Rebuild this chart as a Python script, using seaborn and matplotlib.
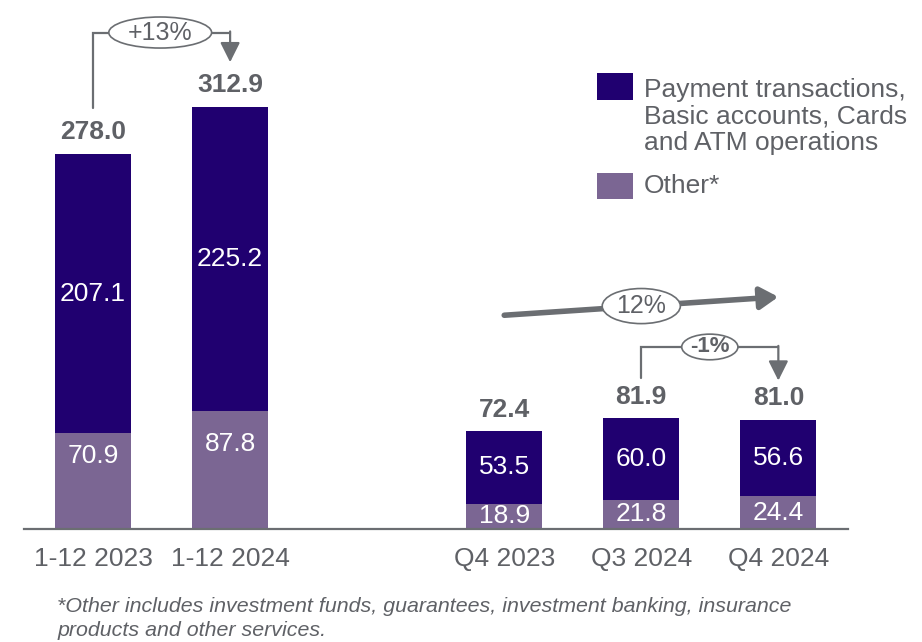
import numpy as np
import pandas as pd
import matplotlib
matplotlib.use('Agg')
import matplotlib.pyplot as plt
from matplotlib.patches import Ellipse, Rectangle
import seaborn as sns

# data
periods = ['1-12 2023', '1-12 2024', 'Q4 2023', 'Q3 2024', 'Q4 2024']
payments = [207.1, 225.2, 53.5, 60.0, 56.6]
other = [70.9, 87.8, 18.9, 21.8, 24.4]
totals = [278.0, 312.9, 72.4, 81.9, 81.0]
growth_year = '+13%'
growth_trend = '12%'
growth_qoq = '-1%'
legend_labels = ['Payment transactions,\nBasic accounts, Cards\nand ATM operations', 'Other*']
footnote = ('*Other includes investment funds, guarantees, investment banking, insurance\n'
            'products and other services.')

# colours / style
dark = '#200070'
light = '#7b6693'
gray = '#5f6166'
line_gray = '#6b6e72'

sns.set_theme(style='white')
plt.rcParams['font.family'] = ['Liberation Sans', 'DejaVu Sans']

df = pd.DataFrame({'period': periods, 'payments': payments, 'other': other, 'total': totals})
# blank slot between the yearly and the quarterly groups
order = periods[:2] + [' '] + periods[2:]
pos = {p: order.index(p) for p in periods}

fig = plt.figure(figsize=(9.22, 6.42), dpi=100)
ax = fig.add_axes([0.026, 0.176, 0.894, 0.824])

sns.barplot(data=df, x='period', y='total', order=order, color=dark, saturation=1,
            width=0.555, linewidth=0, ax=ax)
sns.barplot(data=df, x='period', y='other', order=order, color=light, saturation=1,
            width=0.555, linewidth=0, ax=ax)

ax.set_xlim(-0.504, 5.51)
ax.set_ylim(0, 392)
ax.set_xlabel('')
ax.set_ylabel('')
ax.set_yticks([])
for s in ['top', 'right', 'left']:
    ax.spines[s].set_visible(False)
ax.spines['bottom'].set_color(line_gray)
ax.spines['bottom'].set_linewidth(1.6)
ax.tick_params(axis='x', length=0, pad=13, labelsize=19, labelcolor=gray)

# value labels
other_frac = [0.76, 0.72, 0.5, 0.5, 0.5]
for i, row in df.iterrows():
    x = pos[row['period']]
    ax.text(x, row['other'] * other_frac[i], f"{row['other']:.1f}", ha='center', va='center',
            color='white', fontsize=19)
    ax.text(x, row['other'] + row['payments'] / 2, f"{row['payments']:.1f}", ha='center',
            va='center', color='white', fontsize=19)
    ax.annotate(f"{row['total']:.1f}", (x, row['total']), xytext=(0, 7),
                textcoords='offset points', ha='center', va='bottom', color=gray,
                fontsize=19, fontweight='bold')


def bracket(ax, x0, x1, y0, ytop, ytip, text, ex, ew, eh, fs, weight='normal'):
    ax.plot([x0, x0, x1], [y0, ytop, ytop], color=line_gray, lw=1.6, solid_joinstyle='miter')
    ax.annotate('', xy=(x1, ytip), xytext=(x1, ytop + 0.8),
                arrowprops=dict(arrowstyle='-|>,head_length=1.0,head_width=0.5',
                                color=line_gray, lw=1.6, shrinkA=0, shrinkB=0))
    ax.add_patch(Ellipse((ex, ytop), ew, eh, facecolor='white', edgecolor=line_gray,
                         lw=1.2, zorder=4))
    ax.text(ex, ytop, text, ha='center', va='center', color=gray, fontsize=fs,
            fontweight=weight, zorder=5)


# yearly growth bracket
bracket(ax, pos[periods[0]], pos[periods[1]], totals[0] + 34, totals[1] + 55, totals[1] + 33,
        growth_year, 0.49, 0.75, 23, 18)

# quarter-on-quarter bracket
bracket(ax, pos[periods[3]], pos[periods[4]], totals[3] + 30, totals[3] + 53, totals[4] + 29,
        growth_qoq, 4.5, 0.41, 19, 16, weight='bold')

# trend arrow across quarters
y_start, y_end = totals[2] + 86, totals[4] + 91
ax.annotate('', xy=(pos[periods[4]], y_end), xytext=(pos[periods[2]], y_start),
            arrowprops=dict(arrowstyle='-|>,head_length=0.9,head_width=0.55',
                            color=line_gray, lw=4, shrinkA=0, shrinkB=0))
ax.add_patch(Ellipse((4.0, (y_start + y_end) / 2), 0.57, 26, facecolor='white',
                     edgecolor=line_gray, lw=1.2, zorder=4))
ax.text(4.0, (y_start + y_end) / 2, growth_trend, ha='center', va='center', color=gray,
        fontsize=18, zorder=5)

# legend drawn by hand to match the multi-line layout
fig.add_artist(Rectangle((0.6475, 0.844), 0.039, 0.042, transform=fig.transFigure,
                         facecolor=dark, edgecolor='none'))
fig.add_artist(Rectangle((0.6475, 0.690), 0.039, 0.041, transform=fig.transFigure,
                         facecolor=light, edgecolor='none'))
fig.text(0.6985, 0.819, legend_labels[0], ha='left', va='center', color=gray, fontsize=19,
         linespacing=1.13)
fig.text(0.6985, 0.710, legend_labels[1], ha='left', va='center', color=gray, fontsize=19)

fig.text(0.062, 0.037, footnote, ha='left', va='center', color=gray, fontsize=15.4,
         style='italic', linespacing=1.32)

fig.savefig('out.png', dpi=100)
